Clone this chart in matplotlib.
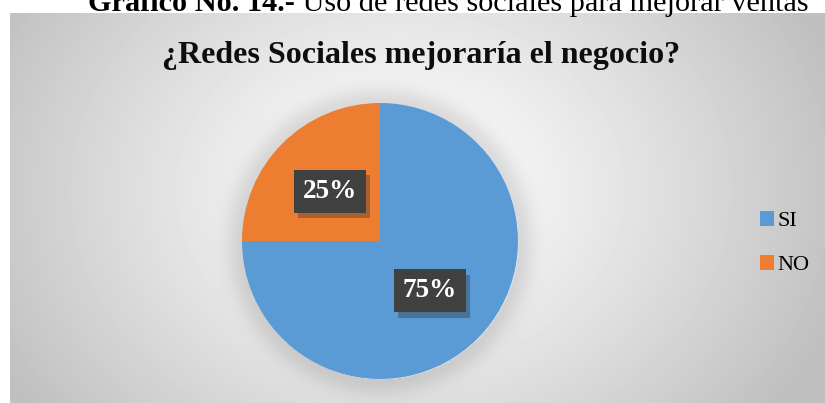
import matplotlib

matplotlib.use("Agg")

import matplotlib.pyplot as plt
import matplotlib.patheffects as pe
import numpy as np

plt.rcParams["font.family"] = ["Liberation Serif", "DejaVu Serif"]

# data
categories = ["SI", "NO"]
shares = [75, 25]
colors = ["#5B9BD5", "#ED7D31"]
chart_title = "¿Redes Sociales mejoraría el negocio?"
caption_bold = "Gráfico No. 14.-"
caption_rest = " Uso de redes sociales para mejorar ventas"

W, H = 825, 403
fig = plt.figure(figsize=(W / 100, H / 100), dpi=100)
fig.patch.set_facecolor("white")

# chart area (pixels from top-left)
area_left, area_top = 10, 13
cx, cy, r = 380, 241, 138

# radial grey background with a soft halo round the pie
aw, ah = W - area_left, H - area_top
yy, xx = np.mgrid[0:ah, 0:aw]
px = xx + area_left
py = yy + area_top
gx, gy = 400, 190
d = np.hypot((px - gx) / 1.0, (py - gy) / 0.8)
shade = 1.0 - 0.25 * np.clip(d / 460, 0, 1) ** 1.2
dp = np.hypot(px - cx, py - cy)
halo = np.where(dp > r, np.exp(-((dp - r) / 16.0) ** 2), 0)
shade = shade - 0.1 * halo
bg_ax = fig.add_axes([area_left / W, 0, aw / W, ah / H])
bg_ax.imshow(shade, cmap="gray", vmin=0, vmax=1, aspect="auto",
             interpolation="bilinear")
bg_ax.axis("off")

# pie
pie_ax = fig.add_axes([(cx - r) / W, (H - cy - r) / H, 2 * r / W, 2 * r / H])
wedges, _, autotexts = pie_ax.pie(
    shares, colors=colors, startangle=90, counterclock=False,
    autopct="%1.0f%%", pctdistance=0.51, radius=1.0,
    textprops=dict(color="white", fontsize=19.5, fontweight="bold"),
)
pie_ax.set_xlim(-1, 1)
pie_ax.set_ylim(-1, 1)
pie_ax.set_aspect("equal")
pie_ax.axis("off")
for t in autotexts:
    t.set_bbox(dict(boxstyle="square,pad=0.33", facecolor="#404040",
                    edgecolor="none"))
    t.get_bbox_patch().set_path_effects(
        [pe.SimplePatchShadow(offset=(3, -4), shadow_rgbFace="#2a2a2a",
                              alpha=0.35), pe.Normal()])

# titles
fig.text(421 / W, 1 - 55 / H, chart_title, ha="center", va="center",
         fontsize=23, fontweight="bold", color="#0d0d0d")

cap = fig.text(88 / W, 1 - 11 / H, caption_bold, ha="left", va="baseline",
               fontsize=21.8, fontweight="bold", color="black")
fig.canvas.draw()
bb = cap.get_window_extent()
fig.text(bb.x1 / W, 1 - 11 / H, caption_rest, ha="left", va="baseline",
         fontsize=21.8, color="black")

# legend
fig.legend(wedges, categories, loc="center left",
           bbox_to_anchor=(760 / W, 1 - 243 / H), frameon=False,
           borderaxespad=0, borderpad=0,
           fontsize=16, handlelength=0.65, handleheight=0.65,
           handletextpad=0.15, labelspacing=1.05)

fig.savefig("out.png", dpi=100)
